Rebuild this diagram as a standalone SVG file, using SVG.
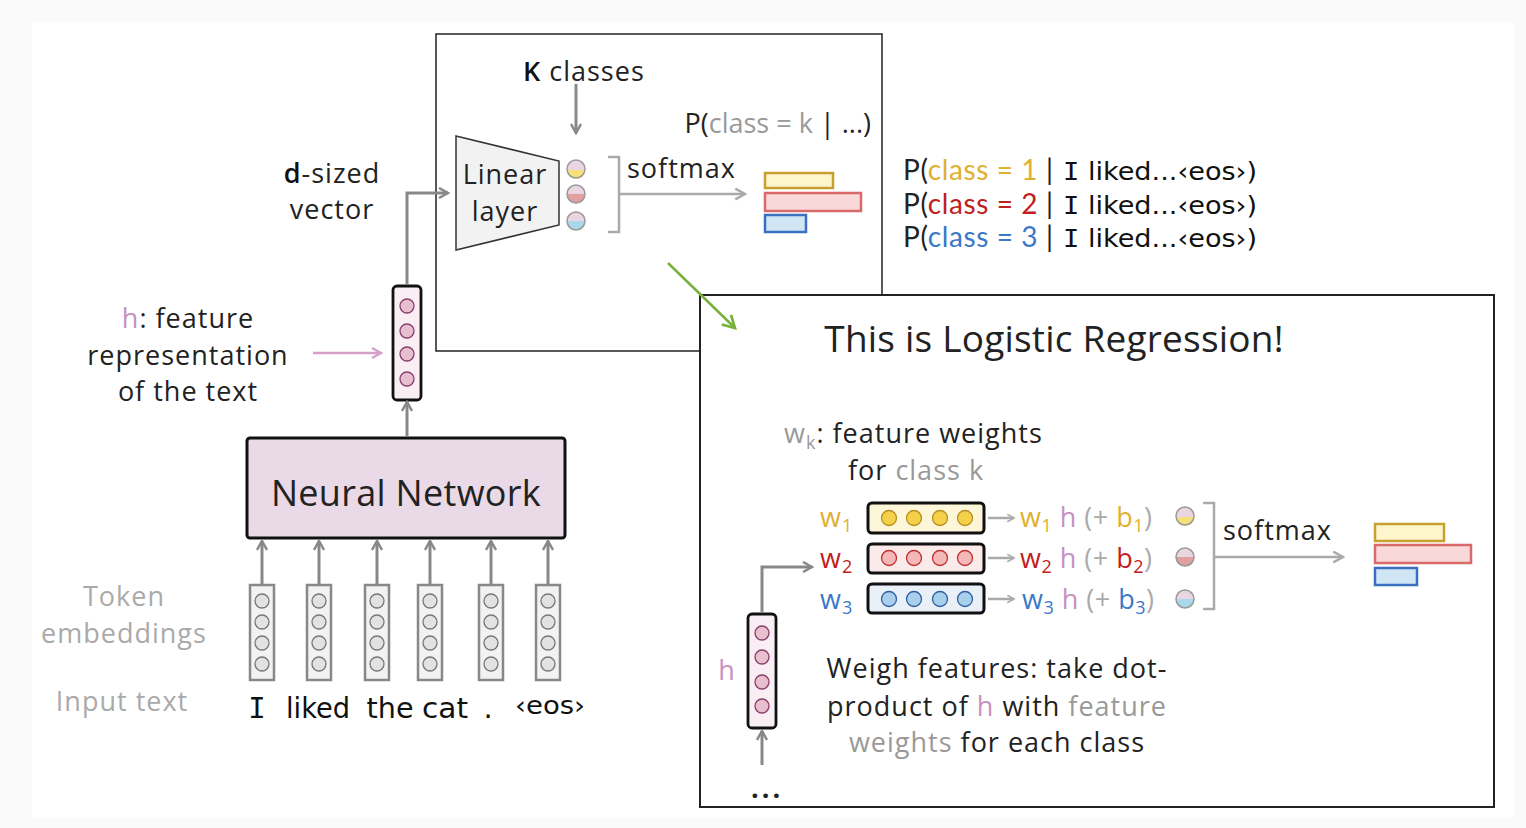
<svg xmlns="http://www.w3.org/2000/svg" width="1526" height="828" viewBox="0 0 1526 828">
<style>
.t{font-family:"Open Sans","Noto Sans",sans-serif;font-size:27px;fill:#222;letter-spacing:1px}
.p{font-family:Lato,"Open Sans",sans-serif;font-size:28px;fill:#222}
.g{fill:#999}
.lg{fill:#aaa}
.pk{fill:#c890c0}
.y{fill:#e0b030}
.r{fill:#c02020}
.b{fill:#3a78c8}
.c{font-family:"DejaVu Sans",sans-serif;fill:#111}
.m{font-family:"DejaVu Sans Mono",monospace}
.emb{fill:#f2f2f2;stroke:#888;stroke-width:2.5}
.embc{fill:#e2e2e2;stroke:#777;stroke-width:1.3}
.hv{fill:#f9eef3;stroke:#111;stroke-width:2.8}
.hc{fill:#e8bfcf;stroke:#8a3d6a;stroke-width:1.3}
.ag{fill:none;stroke:#888;stroke-width:3}
.al{fill:none;stroke:#aaa;stroke-width:2.5}
.br{fill:none;stroke:#aaa;stroke-width:2.5}
</style>
<defs>
<marker id="mg" viewBox="0 0 12 12" refX="10" refY="6" markerWidth="12" markerHeight="12" markerUnits="userSpaceOnUse" orient="auto"><path d="M1,1 L10,6 L1,11" fill="none" stroke="#888" stroke-width="2.5"/></marker>
<marker id="ml" viewBox="0 0 12 12" refX="10" refY="6" markerWidth="13" markerHeight="13" markerUnits="userSpaceOnUse" orient="auto"><path d="M1,1 L10,6 L1,11" fill="none" stroke="#aaa" stroke-width="2.2"/></marker>
<marker id="ms" viewBox="0 0 12 12" refX="10" refY="6" markerWidth="9" markerHeight="9" markerUnits="userSpaceOnUse" orient="auto"><path d="M1,1 L10,6 L1,11" fill="none" stroke="#aaa" stroke-width="2.2"/></marker>
<marker id="mp" viewBox="0 0 12 12" refX="10" refY="6" markerWidth="12" markerHeight="12" markerUnits="userSpaceOnUse" orient="auto"><path d="M1,1 L10,6 L1,11" fill="none" stroke="#d4a0c8" stroke-width="2.2"/></marker>
<marker id="mgr" viewBox="0 0 12 12" refX="10" refY="6" markerWidth="16" markerHeight="16" markerUnits="userSpaceOnUse" orient="auto"><path d="M1,1 L10,6 L1,11" fill="none" stroke="#78b03c" stroke-width="2"/></marker>
<g id="hcY"><circle r="9" fill="#ead6e2"/><path d="M-9,1 A9,9 0 0 0 9,1Z" fill="#f6e07a"/><circle r="9" fill="none" stroke="#999" stroke-width="1.5"/></g>
<g id="hcR"><circle r="9" fill="#ead6e2"/><path d="M-9,0 A9,9 0 0 0 9,0Z" fill="#e0a0a0"/><circle r="9" fill="none" stroke="#999" stroke-width="1.5"/></g>
<g id="hcB"><circle r="9" fill="#ead6e2"/><path d="M-9,0 A9,9 0 0 0 9,0Z" fill="#a8d8ea"/><circle r="9" fill="none" stroke="#999" stroke-width="1.5"/></g>
<g id="emb"><rect x="-12" y="0" width="24" height="95" class="emb"/><circle cy="16" r="7" class="embc"/><circle cy="37" r="7" class="embc"/><circle cy="58" r="7" class="embc"/><circle cy="79" r="7" class="embc"/></g>
</defs>

<rect x="0" y="0" width="1526" height="828" fill="#fafafa"/>
<rect x="32" y="22" width="1482" height="796" fill="#ffffff"/>

<g id="top-box">
<rect x="436" y="34" width="446" height="317" fill="#fff" stroke="#222" stroke-width="1.5"/>
</g>

<g id="k-classes">
<text class="t" x="523" y="81"><tspan font-weight="600" fill="#111">K</tspan> classes</text>
</g>
<g id="p-class-k">
<text class="t" x="871" y="133" text-anchor="end" style="letter-spacing:0">P(<tspan class="g">class = k</tspan> | ...)</text>
</g>

<g id="linear-layer">
<polygon points="456,136 559,161 559,225 456,250" fill="#f2f2f2" stroke="#333" stroke-width="1.5"/>
<text class="t" x="505" y="184" text-anchor="middle">Linear</text>
<text class="t" x="505" y="221" text-anchor="middle">layer</text>
</g>

<g id="logits-top">
<use href="#hcY" x="576" y="169"/>
<use href="#hcR" x="576" y="194"/>
<use href="#hcB" x="576" y="221"/>
</g>

<g id="softmax-top">
<text class="t" x="627" y="178">softmax</text>
</g>

<g id="bars-top">
<rect x="765" y="173" width="68" height="15" fill="#fdf5cc" stroke="#c8a030" stroke-width="2.5"/>
<rect x="765" y="193" width="96" height="18" fill="#f8d8d8" stroke="#d86a6a" stroke-width="2.5"/>
<rect x="765" y="215" width="41" height="17" fill="#d0e6f4" stroke="#3b6fc0" stroke-width="2.5"/>
</g>

<g id="p-lines">
<text class="p" x="903" y="180" textLength="150">P(<tspan class="y">class = 1</tspan> |</text>
<text class="p" x="903" y="214" textLength="150">P(<tspan class="r">class = 2</tspan> |</text>
<text class="p" x="903" y="247" textLength="150">P(<tspan class="b">class = 3</tspan> |</text>
<text class="c" x="1063" y="180" font-size="25" textLength="194" lengthAdjust="spacingAndGlyphs"><tspan class="m">I</tspan> liked...‹eos›)</text>
<text class="c" x="1063" y="214" font-size="25" textLength="194" lengthAdjust="spacingAndGlyphs"><tspan class="m">I</tspan> liked...‹eos›)</text>
<text class="c" x="1063" y="247" font-size="25" textLength="194" lengthAdjust="spacingAndGlyphs"><tspan class="m">I</tspan> liked...‹eos›)</text>
</g>

<g id="d-sized">
<text class="t" x="332" y="183" text-anchor="middle"><tspan font-weight="600" fill="#111">d</tspan>-sized</text>
<text class="t" x="332" y="219" text-anchor="middle">vector</text>
</g>

<g id="h-label">
<text class="t" x="188" y="328" text-anchor="middle"><tspan class="pk">h</tspan>: feature</text>
<text class="t" x="188" y="365" text-anchor="middle">representation</text>
<text class="t" x="188" y="401" text-anchor="middle">of the text</text>
</g>

<g id="h-vector">
<rect x="393" y="286" width="28" height="114" rx="4" class="hv"/>
<circle cx="407" cy="306" r="7" class="hc"/>
<circle cx="407" cy="331" r="7" class="hc"/>
<circle cx="407" cy="354" r="7" class="hc"/>
<circle cx="407" cy="379" r="7" class="hc"/>
</g>

<g id="neural-network">
<rect x="247" y="438" width="318" height="100" rx="3" fill="#ead9e6" stroke="#111" stroke-width="3"/>
<text class="t" x="406" y="506" text-anchor="middle" style="font-size:36px;letter-spacing:0.3px">Neural Network</text>
</g>

<g id="token-embeddings">
<use href="#emb" x="262" y="585"/>
<use href="#emb" x="319" y="585"/>
<use href="#emb" x="377" y="585"/>
<use href="#emb" x="430" y="585"/>
<use href="#emb" x="491" y="585"/>
<use href="#emb" x="548" y="585"/>
</g>

<g id="side-labels">
<text class="t lg" x="124" y="606" text-anchor="middle">Token</text>
<text class="t lg" x="124" y="643" text-anchor="middle">embeddings</text>
<text class="t lg" x="122" y="711" text-anchor="middle">Input text</text>
</g>

<g id="input-text">
<text class="c m" x="257" y="718" font-size="29" text-anchor="middle">I</text>
<text class="c" x="318" y="718" font-size="29" text-anchor="middle" textLength="64" lengthAdjust="spacingAndGlyphs">liked</text>
<text class="c" x="390" y="718" font-size="29" text-anchor="middle" textLength="47" lengthAdjust="spacingAndGlyphs">the</text>
<text class="c" x="445" y="718" font-size="29" text-anchor="middle" textLength="46" lengthAdjust="spacingAndGlyphs">cat</text>
<text class="c" x="488" y="718" font-size="29" text-anchor="middle">.</text>
<text class="c" x="550" y="714" font-size="24" text-anchor="middle" textLength="70" lengthAdjust="spacingAndGlyphs">‹eos›</text>
</g>

<g id="lower-box">
<rect x="700" y="295" width="794" height="512" fill="#fff" stroke="#222" stroke-width="2"/>
<text class="t" x="1054" y="352" text-anchor="middle" style="font-size:37px;letter-spacing:0.2px">This is Logistic Regression!</text>
</g>

<g id="wk-label">
<text class="t" x="784" y="443"><tspan class="g">w<tspan font-size="18" dy="6">k</tspan></tspan><tspan dy="-6">: feature weights</tspan></text>
<text class="t" x="848" y="480">for <tspan class="g">class k</tspan></text>
</g>

<g id="w1">
<text class="t y" x="820" y="527">w<tspan font-size="18" dy="5">1</tspan></text>
<rect x="868" y="503" width="116" height="30" rx="4" fill="#fdf6d8" stroke="#111" stroke-width="3"/>
<g fill="#f5d04a" stroke="#b89020" stroke-width="1.3"><circle cx="889" cy="518" r="7.5"/><circle cx="914" cy="518" r="7.5"/><circle cx="940" cy="518" r="7.5"/><circle cx="965" cy="518" r="7.5"/></g>
<text class="t" x="1020" y="527" style="letter-spacing:0.5px"><tspan class="y">w<tspan font-size="18" dy="5">1</tspan></tspan><tspan class="pk" dy="-5"> h </tspan><tspan class="lg">(+ </tspan><tspan class="y">b<tspan font-size="18" dy="5">1</tspan></tspan><tspan class="lg" dy="-5">)</tspan></text>
<use href="#hcY" x="1185" y="516"/>
</g>
<g id="w2">
<text class="t r" x="820" y="568">w<tspan font-size="18" dy="5">2</tspan></text>
<rect x="868" y="544" width="116" height="29" rx="4" fill="#fbeaea" stroke="#111" stroke-width="3"/>
<g fill="#f4b8b8" stroke="#c03030" stroke-width="1.3"><circle cx="889" cy="558" r="7.5"/><circle cx="914" cy="558" r="7.5"/><circle cx="940" cy="558" r="7.5"/><circle cx="965" cy="558" r="7.5"/></g>
<text class="t" x="1020" y="568" style="letter-spacing:0.5px"><tspan class="r">w<tspan font-size="18" dy="5">2</tspan></tspan><tspan class="pk" dy="-5"> h </tspan><tspan class="lg">(+ </tspan><tspan class="r">b<tspan font-size="18" dy="5">2</tspan></tspan><tspan class="lg" dy="-5">)</tspan></text>
<use href="#hcR" x="1185" y="557"/>
</g>
<g id="w3">
<text class="t b" x="820" y="609">w<tspan font-size="18" dy="5">3</tspan></text>
<rect x="868" y="584" width="116" height="29" rx="4" fill="#eaf0f8" stroke="#111" stroke-width="3"/>
<g fill="#a8d0ec" stroke="#3060a0" stroke-width="1.3"><circle cx="889" cy="599" r="7.5"/><circle cx="914" cy="599" r="7.5"/><circle cx="940" cy="599" r="7.5"/><circle cx="965" cy="599" r="7.5"/></g>
<text class="t" x="1022" y="609" style="letter-spacing:0.5px"><tspan class="b">w<tspan font-size="18" dy="5">3</tspan></tspan><tspan class="pk" dy="-5"> h </tspan><tspan class="lg">(+ </tspan><tspan class="b">b<tspan font-size="18" dy="5">3</tspan></tspan><tspan class="lg" dy="-5">)</tspan></text>
<use href="#hcB" x="1185" y="599"/>
</g>

<g id="softmax-lower">
<text class="t" x="1223" y="540">softmax</text>
</g>

<g id="bars-lower">
<rect x="1375" y="524" width="69" height="17" fill="#fdf5cc" stroke="#c8a030" stroke-width="2.5"/>
<rect x="1375" y="545" width="96" height="18" fill="#f8d8d8" stroke="#d86a6a" stroke-width="2.5"/>
<rect x="1375" y="568" width="42" height="17" fill="#d0e6f4" stroke="#3b6fc0" stroke-width="2.5"/>
</g>

<g id="h-vector-lower">
<text class="t pk" x="727" y="680" text-anchor="middle">h</text>
<rect x="748" y="614" width="28" height="114" rx="4" class="hv"/>
<circle cx="762" cy="633" r="7" class="hc"/>
<circle cx="762" cy="657" r="7" class="hc"/>
<circle cx="762" cy="682" r="7" class="hc"/>
<circle cx="762" cy="706" r="7" class="hc"/>
<text class="t" x="751" y="798" font-weight="bold" style="letter-spacing:3px">...</text>
</g>

<g id="weigh-text">
<text class="t" x="997" y="678" text-anchor="middle">Weigh features: take dot-</text>
<text class="t" x="997" y="716" text-anchor="middle">product of <tspan class="pk">h</tspan> with <tspan class="g">feature</tspan></text>
<text class="t" x="997" y="752" text-anchor="middle"><tspan class="g">weights</tspan> for each class</text>
</g>

<g id="connectors">
<path d="M576,84 V133" class="ag" marker-end="url(#mg)"/>
<path d="M608,157 H619 V232 H608" class="br"/>
<path d="M619,194 H745" class="al" marker-end="url(#ml)"/>
<path d="M407,285 V193 H448" class="ag" marker-end="url(#mg)"/>
<path d="M407,437 V402" class="ag" marker-end="url(#mg)"/>
<path d="M313,353 H381" fill="none" stroke="#d4a0c8" stroke-width="2.5" marker-end="url(#mp)"/>
<path d="M262,585 V541" class="ag" marker-end="url(#mg)"/>
<path d="M319,585 V541" class="ag" marker-end="url(#mg)"/>
<path d="M377,585 V541" class="ag" marker-end="url(#mg)"/>
<path d="M430,585 V541" class="ag" marker-end="url(#mg)"/>
<path d="M491,585 V541" class="ag" marker-end="url(#mg)"/>
<path d="M548,585 V541" class="ag" marker-end="url(#mg)"/>
<path d="M668,263 L735,328" fill="none" stroke="#78b03c" stroke-width="2.5" marker-end="url(#mgr)"/>
<path d="M988,518 H1014" class="al" stroke-width="2" marker-end="url(#ms)"/>
<path d="M988,558 H1014" class="al" stroke-width="2" marker-end="url(#ms)"/>
<path d="M988,599 H1014" class="al" stroke-width="2" marker-end="url(#ms)"/>
<path d="M1203,503 H1214 V609 H1203" class="br"/>
<path d="M1214,557 H1343" class="al" marker-end="url(#ml)"/>
<path d="M762,613 V567 H812" class="ag" marker-end="url(#mg)"/>
<path d="M762,765 V731" class="ag" marker-end="url(#mg)"/>
</g>
</svg>
